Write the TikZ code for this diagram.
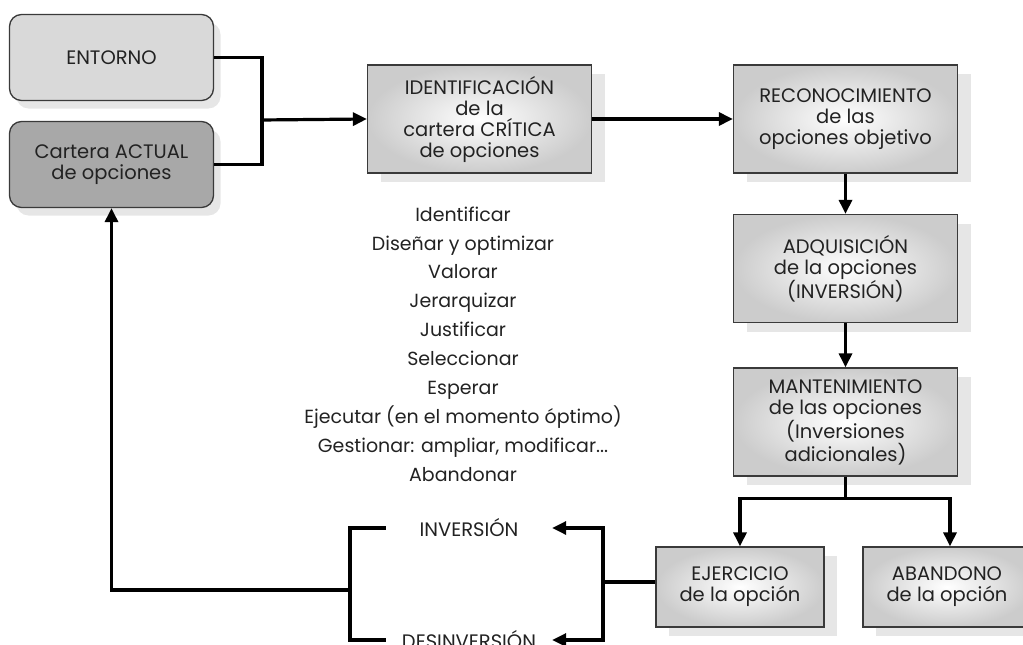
\documentclass[tikz,border=0pt]{standalone}
\usepackage{fontspec}
\setmainfont{Poppins}
\usetikzlibrary{arrows.meta,shadows}
\definecolor{edgegray}{HTML}{3A3A3A}
\definecolor{txt}{HTML}{222222}
\definecolor{shadowgray}{HTML}{E6E6E6}
\definecolor{lightbox}{HTML}{D9D9D9}
\definecolor{darkbox}{HTML}{A8A8A8}
\begin{document}
\begin{tikzpicture}[x=1pt,y=-1pt,
  every node/.style={text=txt, align=center, font=\fontsize{19.5}{21}\selectfont},
  stepbox/.style={draw=edgegray, line width=1.3pt, inner color=white, outer color=gray!40,
    inner sep=2pt,
    drop shadow={shadow xshift=13pt, shadow yshift=-9pt, fill=shadowgray, opacity=1}},
  roundbox/.style={draw=edgegray, line width=1.3pt, rounded corners=12pt,
    minimum width=204pt, minimum height=86pt,
    drop shadow={shadow xshift=7pt, shadow yshift=-8pt, fill=shadowgray, opacity=1}},
  bigbox/.style={stepbox, minimum width=224pt, minimum height=108pt},
  smallbox/.style={stepbox, minimum width=168pt, minimum height=80pt},
  link/.style={line width=3.2pt, draw=black},
  arr/.style={link, -{Triangle[length=14pt,width=13pt]}},
  plain/.style={inner sep=0pt}
]
\useasboundingbox (0,0) rectangle (1023,645);

% inputs on the left
\node[roundbox, fill=lightbox] (ent) at (111.5,57.5) {ENTORNO};
\node[roundbox, fill=darkbox] (cart) at (111.5,164.5) {Cartera ACTUAL\\de opciones};

% main process column
\node[bigbox] (ident) at (479.5,119) {IDENTIFICACIÓN\\de la\\cartera CRÍTICA\\de opciones};
\node[bigbox] (recon) at (845.5,119) {RECONOCIMIENTO\\de las\\opciones objetivo};
\node[bigbox] (adq) at (845.5,268.5) {ADQUISICIÓN\\de la opciones\\(INVERSIÓN)};
\node[bigbox] (mant) at (845.5,422) {MANTENIMIENTO\\de las opciones\\(Inversiones\\adicionales)};
\node[smallbox] (ejer) at (740,587) {EJERCICIO\\de la opción};
\node[smallbox] (aban) at (947,587) {ABANDONO\\de la opción};

% list of activities
\node[plain, font=\fontsize{19}{28.9}\selectfont] (list) at (463,344)
  {Identificar\\Diseñar y optimizar\\Valorar\\Jerarquizar\\Justificar\\Seleccionar\\Esperar\\Ejecutar (en el momento óptimo)\\Gestionar: ampliar, modificar...\\Abandonar};

% outcomes of the exercise
\node[plain, minimum width=166pt, minimum height=20pt] (inv) at (469,528) {INVERSIÓN};
\node[plain, minimum width=166pt, minimum height=20pt] (desinv) at (469,640) {DESINVERSIÓN};

% connectors
\coordinate (j1) at (262,120);
\draw[link] (ent.east) -| (j1);
\draw[link] (cart.east) -| (j1);
\draw[arr] ([xshift=-1.6pt]j1) -- (ident.west);
\draw[arr] (ident.east) -- (recon.west);
\draw[arr] (recon.south) -- (adq.north);
\draw[arr] (adq.south) -- (mant.north);
\draw[link] (mant.south) -- ++(0,22) coordinate (split);
\draw[arr] (split) -| (ejer.north);
\draw[arr] (split) -| ([xshift=3pt]aban.north);

\coordinate (rj) at (603,582);
\draw[link] (ejer.west |- rj) -- (rj);
\draw[arr] (rj) |- (inv.east);
\draw[arr] (rj) |- (desinv.east);

\coordinate (lj) at (350,590);
\draw[link] (inv.west) -| (lj);
\draw[link] (desinv.west) -| (lj);
\draw[arr] (lj) -| (cart.south);
\end{tikzpicture}
\end{document}
